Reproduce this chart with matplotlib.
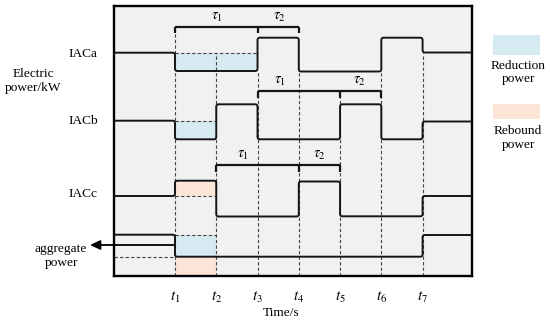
import numpy as np
import matplotlib
matplotlib.use('Agg')
import matplotlib.pyplot as plt
from matplotlib.patches import Rectangle

plt.rcParams['font.family'] = ['Liberation Serif', 'DejaVu Serif']
plt.rcParams['mathtext.fontset'] = 'stix'

# ---------------- data ----------------
t_pos = [1, 2, 3, 4, 5, 6, 7]
t_labels = ['$t_1$', '$t_2$', '$t_3$', '$t_4$', '$t_5$', '$t_6$', '$t_7$']

iaca_breaks = [1, 3, 4, 6, 7]
iaca_levels = [223.3, 205.0, 238.3, 204.5, 238.3, 223.5]
iacb_breaks = [1, 2, 3, 5, 6, 7]
iacb_levels = [155.3, 136.7, 171.7, 136.7, 171.7, 136.7, 154.5]
iacc_breaks = [1, 2, 4, 5, 7]
iacc_levels = [80.0, 95.3, 59.5, 94.5, 59.7, 80.0]
agg_breaks = [1, 7]
agg_levels = [41.3, 19.3, 41.0]

series_names = ['IACa', 'IACb', 'IACc']
legend_names = ['Reduction\npower', 'Rebound\npower']

# brackets: (tick times, level, tau1 label x, tau2 label x)
brk_a = ([1, 3, 4], 249.3, 2.02, 3.52)
brk_b = ([3, 5, 6], 185.0, 3.54, 5.48)
brk_c = ([2, 4, 5], 111.0, 2.65, 4.50)

# ---------------- layout ----------------
W, H = 550, 322
XMIN, XMAX = -0.49, 8.19
YMIN, YMAX = 0.0, 270.5
BLUE = '#d5eaf1'
ORANGE = '#fbe5d7'
BG = '#f1f1f1'
LC = '#151515'

fig = plt.figure(figsize=(W / 100, H / 100), dpi=100)
ax = fig.add_axes([113.5 / W, 1 - 276 / H, (471.7 - 113.5) / W, (276 - 5.5) / H])
ax.set_xlim(XMIN, XMAX)
ax.set_ylim(YMIN, YMAX)
ax.set_facecolor(BG)
ax.set_xticks([])
ax.set_yticks([])
for sp in ax.spines.values():
    sp.set_linewidth(1.7)
    sp.set_color('black')


def rounded_step(breaks, levels, x0, x1, rx=0.06, ry=2.5, n=7):
    xs = [x0]
    ys = [levels[0]]
    u = np.linspace(0, 1, n)

    def quad(p0, p1, p2):
        bx = (1 - u) ** 2 * p0[0] + 2 * (1 - u) * u * p1[0] + u ** 2 * p2[0]
        by = (1 - u) ** 2 * p0[1] + 2 * (1 - u) * u * p1[1] + u ** 2 * p2[1]
        return list(bx), list(by)

    for b, la, lb in zip(breaks, levels[:-1], levels[1:]):
        s = np.sign(lb - la)
        h = min(ry, abs(lb - la) / 2)
        cx, cy = quad((b - rx, la), (b, la), (b, la + s * h))
        xs += cx
        ys += cy
        cx, cy = quad((b, lb - s * h), (b, lb), (b + rx, lb))
        xs += cx
        ys += cy
    xs.append(x1)
    ys.append(levels[-1])
    return xs, ys


dash_kw = dict(color='#444444', lw=0.8, dashes=(3, 2), zorder=2)

# shaded areas
ax.fill_between([iaca_breaks[0], iaca_breaks[1]], iaca_levels[1], iaca_levels[0],
                color=BLUE, lw=0, zorder=1)
ax.fill_between([iacb_breaks[0], iacb_breaks[1]], iacb_levels[1], iacb_levels[0],
                color=BLUE, lw=0, zorder=1)
ax.fill_between([iacc_breaks[0], iacc_breaks[1]], iacc_levels[0], iacc_levels[1],
                color=ORANGE, lw=0, zorder=1)
ax.fill_between([t_pos[0], t_pos[1]], agg_levels[1], agg_levels[0],
                color=BLUE, lw=0, zorder=1)
ax.fill_between([t_pos[0], t_pos[1]], YMIN, agg_levels[1],
                color=ORANGE, lw=0, zorder=1)

# vertical dashed guides
v_start = [brk_a[1], iaca_levels[0], iaca_levels[1], iaca_levels[1],
           brk_b[1], iaca_levels[3], iaca_levels[0]]
for t, ys in zip(t_pos, v_start):
    ax.plot([t, t], [YMIN, ys], **dash_kw)

# horizontal dashed guides
ax.plot([iaca_breaks[0], iaca_breaks[1]], [iaca_levels[0]] * 2, **dash_kw)
ax.plot([iacb_breaks[0], iacb_breaks[1]], [iacb_levels[0]] * 2, **dash_kw)
ax.plot([iacc_breaks[0], iacc_breaks[1]], [iacc_levels[0]] * 2, **dash_kw)
ax.plot([XMIN, t_pos[0]], [agg_levels[1]] * 2, **dash_kw)
ax.plot([t_pos[0], t_pos[1]], [agg_levels[0]] * 2, **dash_kw)

# step curves
for br, lv in [(iaca_breaks, iaca_levels), (iacb_breaks, iacb_levels),
               (iacc_breaks, iacc_levels), (agg_breaks, agg_levels)]:
    xs, ys = rounded_step(br, lv, XMIN, XMAX)
    ax.plot(xs, ys, color=LC, lw=1.4, zorder=4, solid_capstyle='butt')

# brackets
for ticks, lvl, lx1, lx2 in [brk_a, brk_b, brk_c]:
    ax.plot([ticks[0], ticks[-1]], [lvl, lvl], color=LC, lw=1.6, zorder=4,
            solid_capstyle='butt')
    for tk in ticks:
        ax.plot([tk, tk], [lvl, lvl - 6.7], color=LC, lw=1.6, zorder=4,
                solid_capstyle='butt')
    ax.text(lx1, lvl + 9.5, r'$\tau_1$', ha='center', va='center', fontsize=10.5)
    ax.text(lx2, lvl + 9.5, r'$\tau_2$', ha='center', va='center', fontsize=10.5)

# arrow for aggregate power
ax.annotate('', xy=(90.0 / W, 1 - 245.0 / H), xycoords='figure fraction',
            xytext=(t_pos[0], 31.0), textcoords='data',
            arrowprops=dict(arrowstyle='-|>,head_length=0.6,head_width=0.28',
                            color='black', lw=1.3, shrinkA=0, shrinkB=0),
            annotation_clip=False, zorder=5)


def ftext(x, y, s, **kw):
    fig.text(x / W, 1 - y / H, s, **kw)


FS = 9.6
ftext(83, 54, series_names[0], ha='center', va='center', fontsize=FS)
ftext(83, 121.5, series_names[1], ha='center', va='center', fontsize=FS)
ftext(83, 193.5, series_names[2], ha='center', va='center', fontsize=FS)
ftext(33, 81, 'Electric\npower/kW', ha='center', va='center', fontsize=FS,
      linespacing=1.15)
ftext(61, 256, 'aggregate\npower', ha='center', va='center', fontsize=FS,
      linespacing=1.15)
for t, lab in zip(t_pos, t_labels):
    px = 113.5 + (t - XMIN) / (XMAX - XMIN) * (471.7 - 113.5)
    ftext(px, 297, lab, ha='center', va='center', fontsize=11)
ftext(281, 312.5, 'Time/s', ha='center', va='center', fontsize=FS)

# legend
fig.add_artist(Rectangle((493 / W, 1 - 54.5 / H), 47 / W, 19.5 / H,
                         transform=fig.transFigure, color=BLUE, lw=0))
fig.add_artist(Rectangle((493 / W, 1 - 119.3 / H), 47 / W, 15 / H,
                         transform=fig.transFigure, color=ORANGE, lw=0))
ftext(518, 72.5, legend_names[0], ha='center', va='center', fontsize=FS,
      linespacing=1.15)
ftext(518, 138, legend_names[1], ha='center', va='center', fontsize=FS,
      linespacing=1.15)

fig.savefig('out.png', dpi=100)
